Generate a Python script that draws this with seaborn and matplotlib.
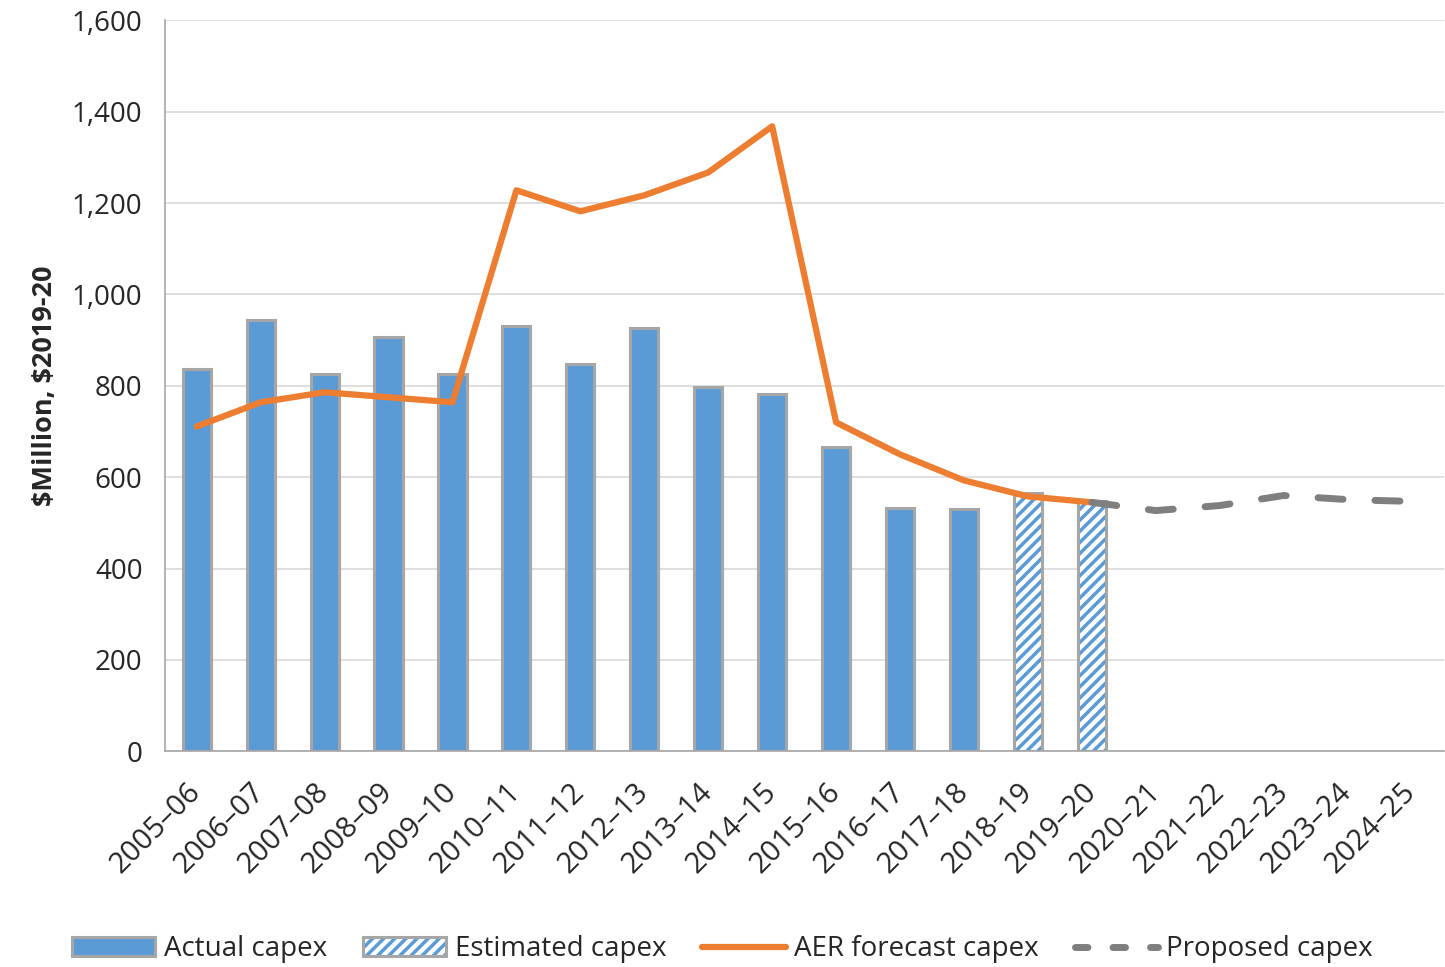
import numpy as np
import pandas as pd
import matplotlib
matplotlib.use("Agg")
import matplotlib.pyplot as plt
from matplotlib.patches import Patch
from matplotlib.lines import Line2D
from matplotlib.legend_handler import HandlerTuple
import seaborn as sns

# Data
years = ["2005–06", "2006–07", "2007–08", "2008–09", "2009–10", "2010–11",
         "2011–12", "2012–13", "2013–14", "2014–15", "2015–16", "2016–17",
         "2017–18", "2018–19", "2019–20", "2020–21", "2021–22", "2022–23",
         "2023–24", "2024–25"]
actual = [836, 945, 825, 906, 825, 932, 847, 926, 797, 783, 667, 532, 530,
          np.nan, np.nan, np.nan, np.nan, np.nan, np.nan, np.nan]
estimated = [np.nan] * 13 + [565, 549] + [np.nan] * 5
aer_forecast = [711, 764, 786, 775, 764, 1228, 1182, 1217, 1267, 1368, 720,
                650, 593, 558, 545, np.nan, np.nan, np.nan, np.nan, np.nan]
proposed = [np.nan] * 14 + [545, 527, 538, 560, 551, 547]

df = pd.DataFrame({
    "year": years,
    "actual": actual,
    "estimated": estimated,
    "aer": aer_forecast,
    "proposed": proposed,
})
df["pos"] = np.arange(len(years))

sns.set_style("white")
plt.rcParams["font.family"] = ["Open Sans", "DejaVu Sans"]
plt.rcParams["hatch.linewidth"] = 2.5

blue = "#5B9BD5"
orange = "#ED7D31"
grey = "#7F7F7F"
edge = "#A6A6A6"
dash_pat = (0, (3.6, 4.6))

fig = plt.figure(figsize=(14.45, 9.67), dpi=100)
ax = fig.add_axes([0.114, 0.223, 0.885, 0.756])

# bars
sns.barplot(data=df, x="year", y="actual", order=years, color=blue,
            width=0.44, edgecolor=edge, linewidth=2.2, saturation=1, ax=ax)
sns.barplot(data=df, x="year", y="estimated", order=years, color="white",
            width=0.44, edgecolor=blue, linewidth=0, hatch="///",
            saturation=1, ax=ax)
sns.barplot(data=df, x="year", y="estimated", order=years, fill=False,
            width=0.44, edgecolor=edge, linewidth=2.2, ax=ax)

# lines
sns.lineplot(data=df, x="pos", y="aer", color=orange, linewidth=4.5,
             solid_capstyle="round", ax=ax)
sns.lineplot(data=df, x="pos", y="proposed", color=grey, linewidth=5,
             dashes=False, ax=ax)
ax.lines[-1].set_linestyle(dash_pat)
ax.lines[-1].set_dash_capstyle("round")

ax.set_xlim(-0.5, len(years) - 0.5)
ax.set_ylim(0, 1600)
ax.set_yticks(range(0, 1601, 200))
ax.set_yticklabels([f"{v:,}" for v in range(0, 1601, 200)], fontsize=20)
ax.yaxis.grid(True, color="#D9D9D9", linewidth=1.2)
ax.set_axisbelow(True)

ax.set_xticks(np.arange(len(years)))
ax.set_xticklabels(years, rotation=45, ha="right", va="center",
                   rotation_mode="anchor", fontsize=21)
ax.set_xticks(np.arange(len(years) + 1) - 0.5, minor=True)
ax.tick_params(axis="x", which="major", length=0, pad=26)
ax.tick_params(axis="x", which="minor", length=8, color=edge, width=1.2,
               direction="out")
ax.tick_params(axis="y", length=8, color=edge, width=1.2, direction="out",
               pad=8)

ax.set_xlabel("")
ax.set_ylabel("\\$Million, \\$2019-20", fontsize=19.5, fontweight="bold",
              labelpad=10)

for s in ["top", "right"]:
    ax.spines[s].set_visible(False)
for s in ["left", "bottom"]:
    ax.spines[s].set_color(edge)
    ax.spines[s].set_linewidth(1.2)

# legend
est_fill = Patch(facecolor="white", edgecolor=blue, hatch="///", linewidth=0)
est_edge = Patch(facecolor="none", edgecolor=edge, linewidth=2.2)
handles = [
    Patch(facecolor=blue, edgecolor=edge, linewidth=2.2),
    (est_fill, est_edge),
    Line2D([0], [0], color=orange, linewidth=4.5, solid_capstyle="round"),
    Line2D([0], [0], color=grey, linewidth=5, linestyle=(0, (1.8, 3.6)),
           dash_capstyle="round"),
]
labels = ["Actual capex", "Estimated capex", "AER forecast capex",
          "Proposed capex"]
fig.legend(handles, labels, loc="lower center", bbox_to_anchor=(0.5, -0.022),
           ncol=4, frameon=False, fontsize=20, handlelength=3.0,
           handletextpad=0.3, columnspacing=1.3,
           handler_map={tuple: HandlerTuple(ndivide=1, pad=0)})

fig.savefig("out.png", dpi=100)
